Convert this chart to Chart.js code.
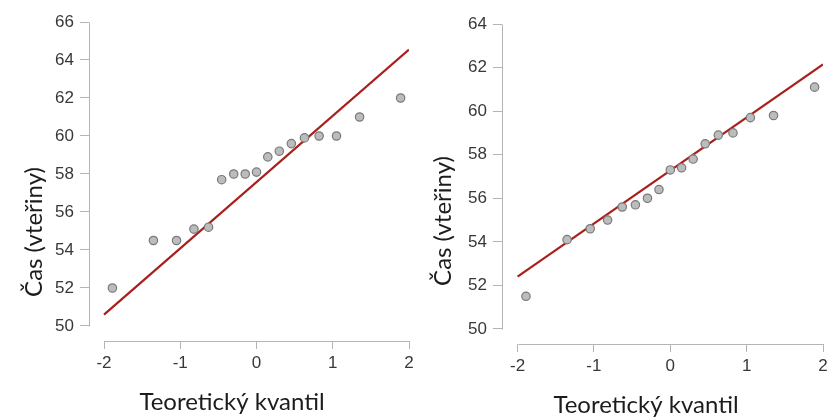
<!DOCTYPE html>
<html>
<head>
<meta charset="utf-8">
<script src="https://cdn.jsdelivr.net/npm/chart.js@4/dist/chart.umd.min.js"></script>
<style>
html,body{margin:0;padding:0;width:827px;height:418px;overflow:hidden;background:#fff;}
#c1{position:absolute;left:0;top:0;}
#c2{position:absolute;left:413px;top:0;}
</style>
</head>
<body>
<canvas id="c1" width="430" height="418"></canvas>
<canvas id="c2" width="430" height="418"></canvas>
<script>
// Theoretical normal quantiles (x) shared by both panels
const quantiles = [-1.890,-1.352,-1.049,-0.821,-0.629,-0.457,-0.299,-0.148,0,0.148,0.299,0.457,0.629,0.821,1.049,1.352,1.890];
// Observed times (seconds)
const timesLeft  = [52.0,54.5,54.5,55.1,55.2,57.7,58.0,58.0,58.1,58.9,59.2,59.6,59.9,60.0,60.0,61.0,62.0];
const timesRight = [51.5,54.1,54.6,55.0,55.6,55.7,56.0,56.4,57.3,57.4,57.8,58.5,58.9,59.0,59.7,59.8,61.1];
// Reference lines (endpoints)
const lineX = [-2, 2];
const lineLeft  = [50.6, 64.55];
const lineRight = [52.4, 62.15];
// Tick labels
const xTicks = [-2,-1,0,1,2];
const yTicksLeft  = [50,52,54,56,58,60,62,64,66];
const yTicksRight = [50,52,54,56,58,60,62,64];
// Axis titles
const xTitle = 'Teoretický kvantil';
const yTitle = 'Čas (vteřiny)';

const AXIS_COLOR = '#b4b4b4';
const TICK_TEXT = '#383838';
const TITLE_FONT = '24px Lato';

const rAxes = {
  id: 'rAxes',
  afterDraw(chart, args, o) {
    const {ctx, chartArea, scales: {x, y}} = chart;
    ctx.save();
    ctx.strokeStyle = AXIS_COLOR;
    ctx.lineWidth = 1;
    const xl = Math.round(chartArea.left) + 0.5;
    const yb = Math.round(chartArea.bottom) + 0.5;
    const yt = y.ticks, xt = x.ticks;
    ctx.beginPath();
    ctx.moveTo(xl, Math.round(y.getPixelForValue(yt[0].value)) + 0.5);
    ctx.lineTo(xl, Math.round(y.getPixelForValue(yt[yt.length - 1].value)) + 0.5);
    ctx.moveTo(Math.round(x.getPixelForValue(xt[0].value)) + 0.5, yb);
    ctx.lineTo(Math.round(x.getPixelForValue(xt[xt.length - 1].value)) + 0.5, yb);
    ctx.stroke();
    ctx.fillStyle = '#1c1c1c';
    ctx.font = TITLE_FONT;
    ctx.textAlign = 'center';
    ctx.textBaseline = 'alphabetic';
    ctx.fillText(o.xTitle, o.xtx, o.xty);
    ctx.translate(o.ytx, o.yty);
    ctx.rotate(-Math.PI / 2);
    ctx.fillText(o.yTitle, 0, 0);
    ctx.restore();
  }
};

function makeChart(id, ys, lineYs, yTicks, g) {
  const pts = quantiles.map((q, i) => ({x: q, y: ys[i]}));
  const ln = lineX.map((v, i) => ({x: v, y: lineYs[i]}));
  return new Chart(document.getElementById(id), {
    type: 'scatter',
    data: {
      datasets: [
        {data: pts, pointRadius: 4.2, pointHoverRadius: 4.2, pointBackgroundColor: '#bcbcbc', pointBorderColor: '#7a7a7a', pointBorderWidth: 1.2, showLine: false},
        {data: ln, showLine: true, pointRadius: 0, borderColor: '#a81f1c', borderWidth: 2.2, fill: false}
      ]
    },
    options: {
      responsive: false,
      animation: false,
      events: [],
      layout: {padding: {left: 0, top: g.top, right: 430 - g.right, bottom: 0}},
      plugins: {
        legend: {display: false},
        tooltip: {enabled: false},
        rAxes: {xTitle: xTitle, yTitle: yTitle, xtx: g.xtx, xty: g.xty, ytx: g.ytx, yty: g.yty}
      },
      scales: {
        x: {
          type: 'linear', min: g.xmin, max: 2,
          afterBuildTicks: s => { s.ticks = xTicks.map(v => ({value: v})); },
          afterFit: s => { s.height = 418 - g.bottom; },
          grid: {drawOnChartArea: false, drawTicks: true, tickLength: 8, color: AXIS_COLOR, lineWidth: 1},
          border: {display: false},
          ticks: {color: TICK_TEXT, font: {family: 'Liberation Sans', size: 17}, padding: 4, maxRotation: 0, callback: v => String(v)}
        },
        y: {
          type: 'linear', min: g.ymin, max: yTicks[yTicks.length - 1],
          afterBuildTicks: s => { s.ticks = yTicks.map(v => ({value: v})); },
          afterFit: s => { s.width = g.left; },
          grid: {drawOnChartArea: false, drawTicks: true, tickLength: 9, color: AXIS_COLOR, lineWidth: 1},
          border: {display: false},
          ticks: {color: TICK_TEXT, font: {family: 'Liberation Sans', size: 17}, padding: 6, callback: v => String(v)}
        }
      }
    },
    plugins: [rAxes]
  });
}

makeChart('c1', timesLeft, lineLeft, yTicksLeft,
  {left: 89, right: 409, top: 22, bottom: 341, xmin: -2.197, ymin: 49.21, xtx: 232, xty: 410, ytx: 42, yty: 232});
makeChart('c2', timesRight, lineRight, yTicksRight,
  {left: 89, right: 410, top: 24, bottom: 344, xmin: -2.204, ymin: 49.31, xtx: 233, xty: 413, ytx: 38, yty: 221});
</script>
</body>
</html>
